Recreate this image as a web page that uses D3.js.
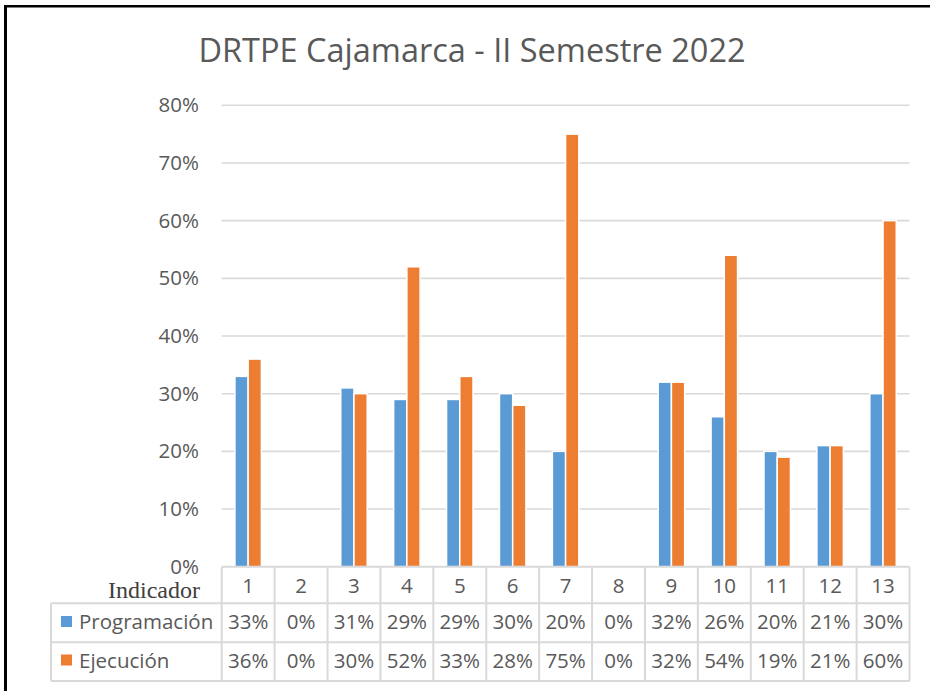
<!DOCTYPE html>
<html>
<head>
<meta charset="utf-8">
<script src="https://cdn.jsdelivr.net/npm/d3@7"></script>
<style>
  body { margin: 0; background: #fff; }
  text { font-family: "Open Sans", sans-serif; fill: #595959; }
</style>
</head>
<body>
<script>
// data
const categories = ["1","2","3","4","5","6","7","8","9","10","11","12","13"];
const seriesNames = ["Programación", "Ejecución"];
const programacion = [33, 0, 31, 29, 29, 30, 20, 0, 32, 26, 20, 21, 30];
const ejecucion = [36, 0, 30, 52, 33, 28, 75, 0, 32, 54, 19, 21, 60];
const yTicks = [0, 10, 20, 30, 40, 50, 60, 70, 80];
const colors = ["#5B9BD5", "#ED7D31"];

const width = 930, height = 691;
const plotLeft = 221.7, plotRight = 909.5, plotTop = 105.3, plotBottom = 566.7;

var svg = d3.select("body").append("svg")
    .attr("width", width)
    .attr("height", height);

// frame
svg.append("rect").attr("x", 4).attr("y", 5).attr("width", 3).attr("height", height - 5).attr("fill", "#000");
svg.append("rect").attr("x", 4).attr("y", 5).attr("width", width - 4).attr("height", 2.5).attr("fill", "#000");

// title
svg.append("text")
    .attr("x", 472).attr("y", 62)
    .attr("text-anchor", "middle")
    .style("font-size", "32.5px")
    .text("DRTPE Cajamarca - II Semestre 2022");

var x = d3.scaleBand().domain(categories).range([plotLeft, plotRight]).padding(0);
var bw = x.bandwidth();
var x1 = d3.scaleBand().domain(seriesNames).range([bw * 0.25, bw * 0.75]).padding(0);
var y = d3.scaleLinear().domain([0, 80]).range([plotBottom, plotTop]);

// gridlines
svg.append("g").selectAll("line")
    .data(yTicks.filter(t => t > 0))
    .enter().append("line")
    .attr("x1", plotLeft).attr("x2", plotRight)
    .attr("y1", d => y(d)).attr("y2", d => y(d))
    .style("stroke", "#d9d9d9")
    .style("stroke-width", 1.6);

// y axis labels
var yAxis = d3.axisLeft(y).tickValues(yTicks).tickFormat(d => d + "%").tickSize(0).tickPadding(0);
var gy = svg.append("g").attr("transform", "translate(199,0)").call(yAxis);
gy.select(".domain").remove();
gy.selectAll("text")
    .style("font-family", "Open Sans, sans-serif")
    .style("font-size", "20.5px")
    .style("fill", "#595959");

// bars
var seriesData = [programacion, ejecucion];
seriesNames.forEach((name, si) => {
  svg.append("g").selectAll("rect")
    .data(seriesData[si])
    .enter().append("rect")
    .attr("x", (d, i) => x(categories[i]) + x1(name))
    .attr("width", x1.bandwidth())
    .attr("y", d => y(d))
    .attr("height", d => y(0) - y(d))
    .attr("fill", colors[si])
    .attr("stroke", "#fff")
    .attr("stroke-width", d => d > 0 ? 1.5 : 0);
});

// data table
var rowTop = [566.7, 603.3, 642.3, 681];
var tableLeft = 51;
var grid = svg.append("g").style("stroke", "#d9d9d9").style("stroke-width", 2);
// horizontal lines
grid.append("line").attr("x1", plotLeft).attr("x2", plotRight).attr("y1", rowTop[0]).attr("y2", rowTop[0]);
[1, 2, 3].forEach(r => {
  grid.append("line").attr("x1", tableLeft).attr("x2", plotRight).attr("y1", rowTop[r]).attr("y2", rowTop[r]);
});
// vertical lines
categories.concat(["end"]).forEach((c, i) => {
  var xx = i < categories.length ? x(c) : plotRight;
  grid.append("line").attr("x1", xx).attr("x2", xx).attr("y1", rowTop[0]).attr("y2", rowTop[3]);
});
grid.append("line").attr("x1", tableLeft).attr("x2", tableLeft).attr("y1", rowTop[1]).attr("y2", rowTop[3]);

// header row
svg.append("g").selectAll("text")
    .data(categories)
    .enter().append("text")
    .attr("x", d => x(d) + bw / 2)
    .attr("y", 593)
    .attr("text-anchor", "middle")
    .style("font-size", "20.5px")
    .text(d => d);

svg.append("text")
    .attr("x", 200).attr("y", 597.5)
    .attr("text-anchor", "end")
    .style("font-family", "Liberation Serif, serif")
    .style("font-size", "24px")
    .style("fill", "#404040")
    .text("Indicador");

// series rows
var baselines = [629, 667.5];
seriesNames.forEach((name, si) => {
  svg.append("rect")
    .attr("x", 61).attr("y", baselines[si] - 13)
    .attr("width", 11).attr("height", 11)
    .attr("fill", colors[si]);
  svg.append("text")
    .attr("x", 79).attr("y", baselines[si])
    .style("font-size", "20.5px")
    .text(name);
  svg.append("g").selectAll("text")
    .data(seriesData[si])
    .enter().append("text")
    .attr("x", (d, i) => x(categories[i]) + bw / 2)
    .attr("y", baselines[si])
    .attr("text-anchor", "middle")
    .style("font-size", "20.5px")
    .text(d => d + "%");
});
</script>
</body>
</html>
